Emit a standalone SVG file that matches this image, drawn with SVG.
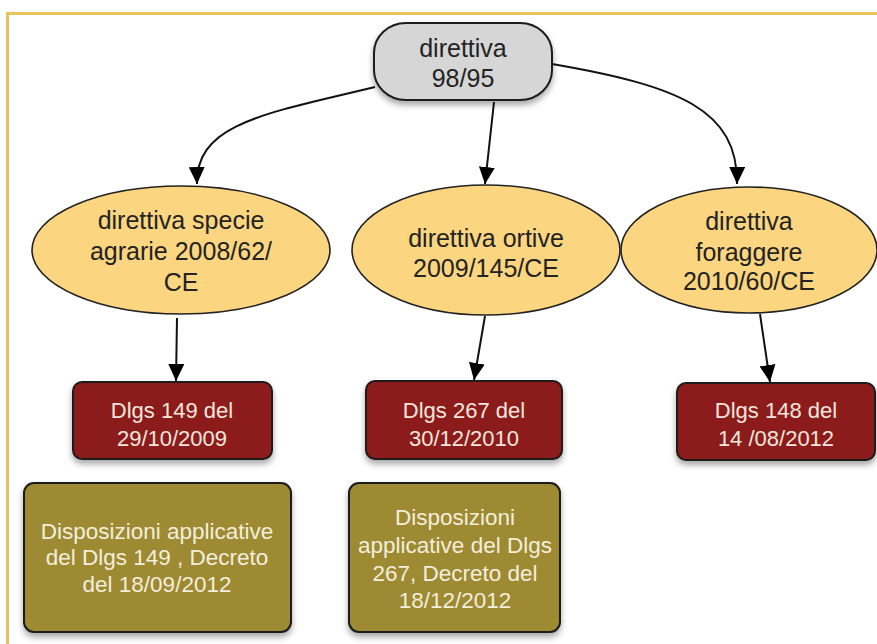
<svg xmlns="http://www.w3.org/2000/svg" width="877" height="644" viewBox="0 0 877 644">
<style>
.t{font-family:"Liberation Sans",Arial,sans-serif;text-anchor:middle}
.dark{fill:#232323;font-size:25px}
.light{fill:#f4e6dc;font-size:22px}
.olt{fill:#f4eedc;font-size:22.5px}
.edge{fill:none;stroke:#111;stroke-width:2}
.ell{fill:#fbd580;stroke:#222;stroke-width:1.6}
.red{fill:#8c1b1d;stroke:#1a1a1a;stroke-width:2}
.olive{fill:#9d8a33;stroke:#1a1a1a;stroke-width:2}
</style>
<defs>
<marker id="arr" markerUnits="userSpaceOnUse" markerWidth="18" markerHeight="16" refX="17" refY="8" orient="auto">
<path d="M0,0 L17,8 L0,16 z" fill="#000"/>
</marker>
<filter id="sh" x="-10%" y="-10%" width="120%" height="130%">
<feDropShadow dx="0" dy="4" stdDeviation="3" flood-color="#000" flood-opacity="0.35"/>
</filter>
</defs>
<rect width="877" height="644" fill="#fff"/>
<path d="M7.5,644 L7.5,13.5 L877,13.5" fill="none" stroke="#e7c35c" stroke-width="3"/>
<g id="connectors">
<path class="edge" d="M375,87 C262,114 196,124 197,184" marker-end="url(#arr)"/>
<path class="edge" d="M494,102 L485,184" marker-end="url(#arr)"/>
<path class="edge" d="M552,64 C680,86 738,110 737,184" marker-end="url(#arr)"/>
<path class="edge" d="M177,318 L176,381" marker-end="url(#arr)"/>
<path class="edge" d="M485,316 L474,380" marker-end="url(#arr)"/>
<path class="edge" d="M760,314 L770,382" marker-end="url(#arr)"/>
</g>
<g id="n-root">
<rect x="374" y="23" width="178" height="77" rx="32" ry="30" fill="#d6d6d6" stroke="#1a1a1a" stroke-width="2" filter="url(#sh)"/>
<text class="t dark" x="463" y="57">direttiva</text>
<text class="t dark" x="463" y="87">98/95</text>
</g>
<g id="n-agrarie">
<ellipse class="ell" cx="181" cy="250" rx="149" ry="64"/>
<text class="t dark" x="181" y="229">direttiva specie</text>
<text class="t dark" x="181" y="260">agrarie 2008/62/</text>
<text class="t dark" x="181" y="291">CE</text>
</g>
<g id="n-ortive">
<ellipse class="ell" cx="486" cy="250" rx="134" ry="65"/>
<text class="t dark" x="486" y="247">direttiva ortive</text>
<text class="t dark" x="486" y="277">2009/145/CE</text>
</g>
<g id="n-foraggere">
<ellipse class="ell" cx="749" cy="250" rx="128" ry="63"/>
<text class="t dark" x="749" y="230">direttiva</text>
<text class="t dark" x="749" y="261">foraggere</text>
<text class="t dark" x="749" y="290">2010/60/CE</text>
</g>
<g id="n-dlgs149">
<rect class="red" x="73" y="382" width="199" height="77" rx="9" filter="url(#sh)"/>
<text class="t light" x="172" y="418">Dlgs 149 del</text>
<text class="t light" x="172" y="446">29/10/2009</text>
</g>
<g id="n-dlgs267">
<rect class="red" x="366" y="381" width="196" height="78" rx="9" filter="url(#sh)"/>
<text class="t light" x="464" y="418">Dlgs 267 del</text>
<text class="t light" x="464" y="446">30/12/2010</text>
</g>
<g id="n-dlgs148">
<rect class="red" x="677" y="383" width="198" height="77" rx="9" filter="url(#sh)"/>
<text class="t light" x="776" y="418">Dlgs 148 del</text>
<text class="t light" x="776" y="446">14 /08/2012</text>
</g>
<g id="n-disp149">
<rect class="olive" x="24" y="483" width="267" height="149" rx="10" filter="url(#sh)"/>
<text class="t olt" x="157" y="539">Disposizioni applicative</text>
<text class="t olt" x="157" y="565">del Dlgs 149 , Decreto</text>
<text class="t olt" x="157" y="592">del 18/09/2012</text>
</g>
<g id="n-disp267">
<rect class="olive" x="349" y="483" width="211" height="149" rx="10" filter="url(#sh)"/>
<text class="t olt" x="455" y="525">Disposizioni</text>
<text class="t olt" x="455" y="553">applicative del Dlgs</text>
<text class="t olt" x="455" y="581">267, Decreto del</text>
<text class="t olt" x="455" y="608">18/12/2012</text>
</g>
</svg>
